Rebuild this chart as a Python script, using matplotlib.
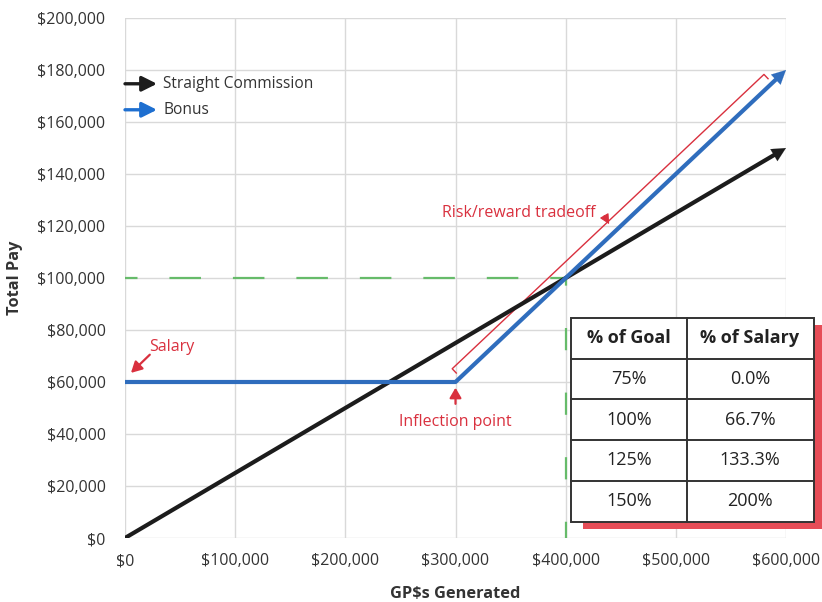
import matplotlib
matplotlib.use("Agg")
import matplotlib.pyplot as plt
from matplotlib.patches import Rectangle
from matplotlib.ticker import FuncFormatter

plt.rcParams['font.family'] = ['Open Sans', 'DejaVu Sans']
plt.rcParams['lines.scale_dashes'] = False

# Pay curves
gp_generated = [0, 300000, 600000]
commission_pay = [0, 75000, 150000]
bonus_pay = [60000, 60000, 180000]
salary = 60000
goal = 400000
goal_pay = 100000

x_ticks = [0, 100000, 200000, 300000, 400000, 500000, 600000]
y_ticks = [0, 20000, 40000, 60000, 80000, 100000, 120000, 140000, 160000, 180000, 200000]

# Bonus table
table_header = ["% of Goal", "% of Salary"]
goal_pct = ["75%", "100%", "125%", "150%"]
salary_pct = ["0.0%", "66.7%", "133.3%", "200%"]

W, H = 822, 602
BLACK = "#1c1c1c"
BLUE = "#2f6dbd"
RED = "#d9303e"
GREEN = "#66bb6a"
GRID = "#d9d9d9"
TXT = "#333333"
FS = 11.5

fig = plt.figure(figsize=(W / 100, H / 100), dpi=100)
ax = fig.add_axes([125 / W, 1 - 538 / H, (786 - 125) / W, (538 - 18) / H])
ax.set_xlim(0, 600000)
ax.set_ylim(0, 200000)
ax.set_xticks(x_ticks)
ax.set_yticks(y_ticks)
money = FuncFormatter(lambda v, p: "${:,.0f}".format(v))
ax.xaxis.set_major_formatter(money)
ax.yaxis.set_major_formatter(money)
ax.tick_params(length=0, labelsize=FS, colors=TXT, pad=14)
ax.tick_params(axis='x', pad=11)
for s in ax.spines.values():
    s.set_visible(False)
ax.grid(True, color=GRID, lw=1.0)
ax.set_axisbelow(True)
ax.set_xlabel("GP$s Generated", fontsize=11.8, fontweight='bold', color=TXT, labelpad=12)
ax.set_ylabel("Total Pay", fontsize=11.8, fontweight='bold', color=TXT)
ax.yaxis.set_label_coords(-0.155, 0.5)

# Goal guide lines
ax.plot([0, goal], [goal_pay, goal_pay], color=GREEN, lw=1.6,
        linestyle=(13.7, (22.7, 23.0)), zorder=2)
ax.plot([goal, goal], [0, goal_pay], color=GREEN, lw=1.6,
        linestyle=(4.3, (16, 30.5)), zorder=2)


def arrow_line(xs, ys, color, zorder):
    ax.plot(xs[:-1] + [xs[-1] - (xs[-1] - xs[-2]) * 0.03],
            ys[:-1] + [ys[-1] - (ys[-1] - ys[-2]) * 0.03],
            color=color, lw=3.0, solid_capstyle='butt', zorder=zorder)
    ax.annotate("", xy=(xs[-1], ys[-1]),
                xytext=(xs[-1] - (xs[-1] - xs[-2]) * 0.06, ys[-1] - (ys[-1] - ys[-2]) * 0.06),
                arrowprops=dict(arrowstyle="-|>,head_length=1.0,head_width=0.5",
                                color=color, lw=0.1, shrinkA=0, shrinkB=0),
                zorder=zorder)


arrow_line(gp_generated, commission_pay, BLACK, 4)
arrow_line(gp_generated, bonus_pay, BLUE, 5)

# Risk/reward bracket, parallel to the rising bonus segment
slope = (bonus_pay[2] - bonus_pay[1]) / (gp_generated[2] - gp_generated[1])
off = 6300
bx0, bx1 = 297000, 580000
by0 = bonus_pay[1] + slope * (bx0 - gp_generated[1]) + off
by1 = bonus_pay[1] + slope * (bx1 - gp_generated[1]) + off
tick_dx, tick_dy = 3700, -1650
ax.plot([bx0 + tick_dx, bx0, bx1, bx1 + tick_dx],
        [by0 + tick_dy, by0, by1, by1 + tick_dy], color=RED, lw=1.0, zorder=3)

ax.text(357500, 125000, "Risk/reward tradeoff", color=RED, fontsize=FS,
        ha='center', va='center')
ax.annotate("", xy=(439500, 120700), xytext=(435000, 124000),
            arrowprops=dict(arrowstyle="-|>,head_length=0.6,head_width=0.3",
                            color=RED, lw=0.8, shrinkA=0, shrinkB=0), zorder=3)

ax.text(42500, 73500, "Salary", color=RED, fontsize=FS, ha='center', va='center')
ax.annotate("", xy=(5400, 63500), xytext=(22500, 70500),
            arrowprops=dict(arrowstyle="-|>,head_length=0.65,head_width=0.35",
                            color=RED, lw=1.6, shrinkA=0, shrinkB=0), zorder=6)

ax.text(300000, 44500, "Inflection point", color=RED, fontsize=FS,
        ha='center', va='center')
ax.annotate("", xy=(300000, 57800), xytext=(300000, 51600),
            arrowprops=dict(arrowstyle="-|>,head_length=0.6,head_width=0.35",
                            color=RED, lw=1.6, shrinkA=0, shrinkB=0), zorder=6)

# Legend drawn as arrows with labels
for yf, col, lab in [(0.8735, BLACK, "Straight Commission"), (0.8235, "#1e6fd0", "Bonus")]:
    ax.annotate("", xy=(32 / 661, yf), xytext=(0.0, yf), xycoords='axes fraction',
                arrowprops=dict(arrowstyle="-|>,head_length=0.9,head_width=0.45",
                                color=col, lw=2.4, shrinkA=0, shrinkB=0))
    ax.text(38 / 661, yf, lab, transform=ax.transAxes, fontsize=11.2, color=TXT,
            va='center', ha='left')


# Table with offset shadow, in figure pixel coordinates
def fx(x):
    return x / W


def fy(y):
    return 1 - y / H


fig.add_artist(Rectangle((fx(583), fy(529)), fx(822) - fx(583), fy(325) - fy(529),
                         transform=fig.transFigure, facecolor="#e64d57",
                         edgecolor='none', zorder=10))
fig.add_artist(Rectangle((fx(571), fy(521.5)), fx(813.5) - fx(571), fy(318) - fy(521.5),
                         transform=fig.transFigure, facecolor='white',
                         edgecolor='#333333', lw=1.4, zorder=11))
col_x = [571, 686.5, 813.5]
row_y = [318, 358.5, 399.2, 440, 480.8, 521.5]
fig.add_artist(plt.Line2D([fx(col_x[1])] * 2, [fy(row_y[0]), fy(row_y[-1])],
                          transform=fig.transFigure, color='#333333', lw=1.4, zorder=12))
for yy in row_y[1:-1]:
    fig.add_artist(plt.Line2D([fx(col_x[0]), fx(col_x[2])], [fy(yy)] * 2,
                              transform=fig.transFigure, color='#333333', lw=1.4, zorder=12))
rows = [table_header] + [[g, s] for g, s in zip(goal_pct, salary_pct)]
for r, row in enumerate(rows):
    yc = (row_y[r] + row_y[r + 1]) / 2
    for c, val in enumerate(row):
        xc = (col_x[c] + col_x[c + 1]) / 2
        fig.text(fx(xc), fy(yc), val, ha='center', va='center', fontsize=13,
                 color='#222222', fontweight='bold' if r == 0 else 'normal', zorder=13)

fig.savefig("out.png", dpi=100)
